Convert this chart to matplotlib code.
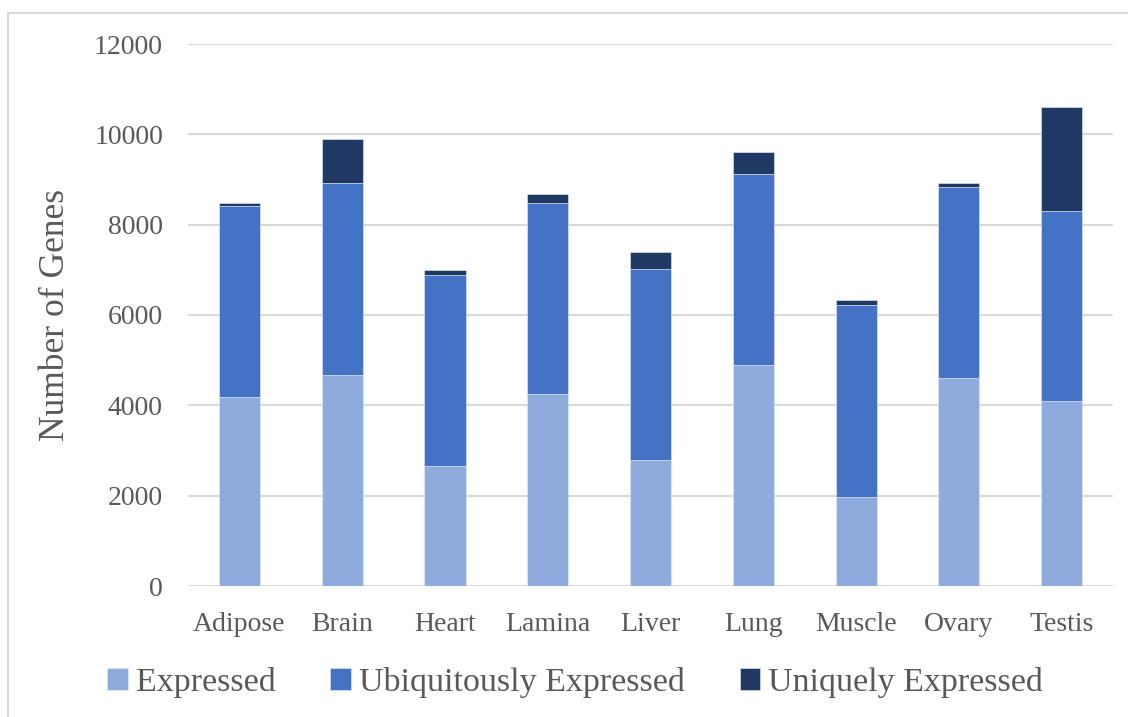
import numpy as np
import matplotlib.pyplot as plt
from matplotlib.patches import Rectangle

# -------------------------------
# DATA
# -------------------------------

tissues = ["Adipose", "Brain", "Heart", "Lamina", "Liver",
           "Lung", "Muscle", "Ovary", "Testis"]

expressed = [4190, 4680, 2660, 4250, 2790, 4900, 1980, 4610, 4100]
ubiquitous = [4230, 4240, 4230, 4230, 4220, 4220, 4240, 4220, 4200]
unique = [50, 970, 110, 190, 380, 480, 110, 90, 2310]

series_names = ["Expressed", "Ubiquitously Expressed", "Uniquely Expressed"]
colors = ["#8FAADC", "#4472C4", "#203864"]
text_color = "#595959"
grid_color = "#D9D9D9"

# -------------------------------
# PLOT
# -------------------------------

plt.rcParams['font.family'] = ['Liberation Serif', 'DejaVu Serif']

fig = plt.figure(figsize=(11.28, 7.17), dpi=100)
ax = fig.add_axes([188 / 1128, 1 - 586 / 717, (1113 - 188) / 1128, (586 - 44) / 717])

x = np.arange(len(tissues))
bottom = np.zeros(len(tissues))
for values, name, color in zip([expressed, ubiquitous, unique], series_names, colors):
    ax.bar(x, values, width=0.4, bottom=bottom, color=color, label=name,
           edgecolor="#E8EEF8", linewidth=0.4, zorder=3)
    bottom += np.array(values)

ax.set_xlim(-0.5, len(tissues) - 0.5)
ax.set_ylim(0, 12000)
ax.set_yticks(np.arange(0, 12001, 2000))
ax.set_xticks(x)
ax.set_xticklabels(tissues)

ax.yaxis.grid(True, color=grid_color, linewidth=1.5, zorder=0)
ax.set_axisbelow(True)
for spine in ax.spines.values():
    spine.set_visible(False)

ax.tick_params(axis='y', length=0, pad=18, labelsize=20, labelcolor=text_color)
ax.tick_params(axis='x', length=0, pad=19, labelsize=20, labelcolor=text_color)

ax.set_ylabel("Number of Genes", fontsize=25.5, color=text_color, labelpad=16)

handles, labels = ax.get_legend_handles_labels()
fig.legend(handles, labels, loc='center', bbox_to_anchor=(0.51, 0.048), ncol=3,
           frameon=False, fontsize=24.5, labelcolor=text_color,
           handlelength=0.6, handleheight=0.6, handletextpad=0.25,
           columnspacing=1.6)

# chart border
fig.patches.append(Rectangle((8 / 1128, -0.1), 1.2, 1 - 13 / 717 + 0.1,
                             transform=fig.transFigure, fill=False,
                             edgecolor=grid_color, linewidth=1.5))

fig.savefig("out.png", dpi=100)
